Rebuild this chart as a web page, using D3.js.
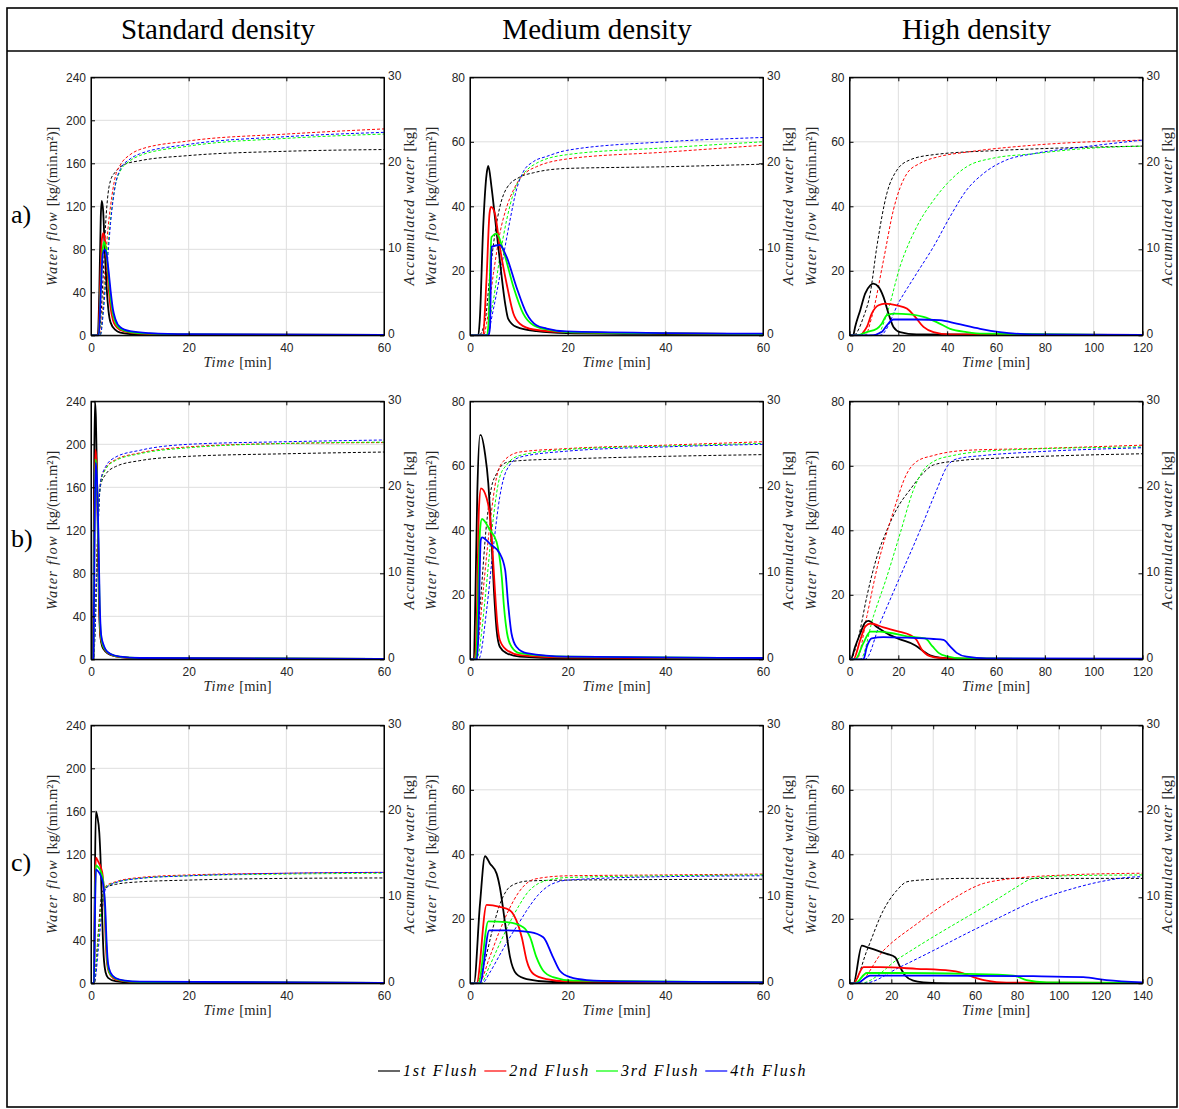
<!DOCTYPE html>
<html>
<head>
<meta charset="utf-8">
<script src="https://cdn.jsdelivr.net/npm/d3@7"></script>
<style>
  body { margin: 0; background: #fff; }
  svg { display: block; }
</style>
</head>
<body>
<svg id="fig" width="1179" height="1109"></svg>
<script>
// ---- labels ----
const columnTitles = ["Standard density", "Medium density", "High density"];
const rowLabels = ["a)", "b)", "c)"];
const flushNames = ["1st Flush", "2nd Flush", "3rd Flush", "4th Flush"];
const flushColors = ["#000000", "#ff0000", "#00ff00", "#0000ff"];

// ---- axis limits and ticks ----
const flowMax = [240, 80, 80];                 // per column
const flowTicks = [[0, 40, 80, 120, 160, 200, 240], [0, 20, 40, 60, 80], [0, 20, 40, 60, 80]];
const accMax = 30;
const accTicks = [0, 10, 20, 30];
const timeMax = [[60, 60, 120], [60, 60, 120], [60, 60, 140]];   // [row][col]
const timeTicks60 = [0, 20, 40, 60];
const timeTicks120 = [0, 20, 40, 60, 80, 100, 120];
const timeTicks140 = [0, 20, 40, 60, 80, 100, 120, 140];

// ---- water flow [kg/(min.m2)] : [time, value] per flush ----
const flowStdA = [
  [[0,0],[1.4,0],[1.7,40],[2.0,110],[2.2,125],[2.5,115],[2.8,82],[3.2,45],[3.6,22],[4,12],[5,5],[6,2.5],[8,1.2],[12,0.6],[30,0.3],[60,0.2]],
  [[0,0],[1.5,0],[1.9,50],[2.2,88],[2.5,95],[2.8,90],[3.2,70],[3.6,45],[4.0,26],[4.5,14],[5,9],[6,5],[8,2.5],[12,1.2],[20,0.7],[60,0.3]],
  [[0,0],[1.6,0],[2.0,45],[2.4,80],[2.7,87],[3.0,82],[3.5,60],[4.0,35],[4.5,20],[5,12],[6,6],[8,3],[12,1.5],[20,0.8],[60,0.3]],
  [[0,0],[1.6,0],[2.0,40],[2.4,75],[2.8,80],[3.2,75],[3.6,60],[4.0,42],[4.5,24],[5,15],[6,7.5],[8,3.8],[12,2],[20,1],[60,0.4]]
];
const flowMedA = [
  [[0,0],[1.7,0],[2.0,4.7],[2.7,33.6],[3.4,50],[3.75,52.5],[4.4,46],[5.1,36.7],[6.1,23.3],[7.2,9.8],[7.8,5.2],[9.5,2.6],[13.6,1.3],[19.8,0.7],[40,0.4],[60,0.3]],
  [[0,0],[2.6,0],[3.4,18],[4.0,37.8],[4.3,39.8],[5.1,37.8],[6.1,27.4],[7.5,16],[8.9,6.7],[10.2,3.6],[13,1.8],[19.8,1.0],[40,0.6],[60,0.4]],
  [[0,0],[3.4,0],[3.75,2.6],[4.4,30.5],[5.45,31.5],[6.8,26.4],[8.9,15],[10.9,6.7],[13,3.1],[15.7,1.8],[19.8,1.0],[40,0.6],[60,0.4]],
  [[0,0],[3.8,0],[4.1,2.6],[4.4,27.4],[6.1,28],[7.5,24.3],[9.5,15],[11.6,6.7],[13.6,3.1],[15.7,2.1],[19.8,1.2],[40,0.7],[60,0.5]]
];
const flowHighA = [
  [[0,0],[1.5,0],[2.3,2.6],[4.4,7.8],[6.4,12.9],[8.5,15.5],[9.8,16],[11.9,15],[13.9,11.9],[16,6.7],[18,2.6],[20.7,1],[27.5,0.3],[120,0.1]],
  [[0,0],[4.5,0],[5.7,1],[7.1,2.6],[9.1,6.7],[11.9,9.3],[14.6,9.8],[19.4,9.3],[23.5,8.3],[26.9,5.7],[30.3,2.6],[34.4,1],[41,0.3],[120,0.1]],
  [[0,0],[3,0],[7.1,1],[11.2,2],[13.2,3.6],[15.3,6.2],[18,6.7],[24.8,6.5],[30.3,5.7],[35.7,4.1],[41.2,2],[48,1],[54.8,0.5],[120,0.1]],
  [[0,0],[9,0],[13.2,1],[15.3,3.1],[18,4.9],[27.5,4.9],[37,4.7],[43.9,3.6],[53.5,2],[61.6,1],[75,0.3],[120,0.1]]
];
const flowStdB = [
  [[0,0],[0.4,0],[0.6,150],[0.8,240],[1.0,225],[1.3,150],[1.6,60],[1.9,22],[2.3,12],[3,7],[4,4],[6,2],[10,1],[60,0.3]],
  [[0,0],[0.5,0],[0.7,140],[0.9,195],[1.1,185],[1.4,130],[1.7,50],[2.0,20],[2.5,12],[3,8],[4,4.5],[6,2],[10,1],[60,0.3]],
  [[0,0],[0.5,0],[0.72,130],[0.92,186],[1.15,176],[1.45,125],[1.75,50],[2.05,21],[2.5,12.5],[3,8.5],[4,4.8],[6,2.2],[10,1.1],[60,0.3]],
  [[0,0],[0.5,0],[0.75,125],[0.95,183],[1.2,170],[1.5,120],[1.8,50],[2.1,22],[2.6,13],[3,9],[4,5],[6,2.5],[10,1.2],[60,0.3]]
];
const flowMedB = [
  [[0,0],[0.8,0],[1.0,11],[1.5,52],[2.05,69.5],[2.2,69.5],[3.07,63.8],[3.75,54.5],[4.4,37],[4.9,21.5],[5.45,9.1],[6.1,3.9],[7.5,1.9],[10.2,0.8],[19.8,0.3],[60,0.2]],
  [[0,0],[1.0,0],[1.36,11],[1.84,47],[2.25,53],[3.4,50],[4.1,44],[4.6,34],[5.1,21.5],[5.6,11],[6.1,6],[7.5,2.9],[10.2,1.3],[19.8,0.5],[60,0.3]],
  [[0,0],[1.2,0],[1.5,9],[2.05,40],[2.45,43.5],[4.1,40],[5.45,36.4],[6.5,25.6],[6.96,16.3],[7.6,8],[8.5,3.9],[10.2,1.9],[19.8,0.8],[60,0.4]],
  [[0,0],[1.4,0],[1.7,7],[2.2,37],[2.45,37.8],[4.1,35.8],[6.1,32.8],[7.2,27.7],[7.8,17.3],[8.5,8],[9.5,3.9],[11.6,1.9],[19.8,0.8],[60,0.4]]
];
const flowHighB = [
  [[0,0],[0.5,0],[2.3,3.9],[4.4,8],[6.4,11.4],[7.8,11.9],[11.2,10],[16.6,7.5],[20.7,6.2],[27,4.3],[30.3,2.5],[33,1.2],[37,0.5],[45,0.2],[120,0.1]],
  [[0,0],[1.6,0],[4.4,6],[6.4,10.1],[8.5,11.1],[13.9,9.9],[20.7,8.5],[24.8,7.5],[27.5,6],[29.6,3],[32.9,1],[37.1,0.4],[45,0.2],[120,0.1]],
  [[0,0],[2.3,0],[5.7,5],[8.5,8.6],[12.5,8.6],[19.4,7.8],[24.8,7],[31,6.5],[34,4],[36.5,2],[40,0.9],[46,0.3],[120,0.1]],
  [[0,0],[5.7,0],[7.1,3.9],[9.1,6.5],[13.9,6.9],[23.5,6.7],[34.4,6.3],[38.5,6],[41.2,4],[43.9,2],[48,0.8],[56.2,0.3],[120,0.2]]
];
const flowStdC = [
  [[0,0],[0.6,0],[0.8,100],[1.0,160],[1.3,155],[1.7,140],[2.0,110],[2.3,60],[2.6,25],[3,10],[3.5,5],[5,2],[8,0.8],[60,0.3]],
  [[0,0],[0.6,0],[0.8,80],[1.0,117],[1.5,113],[2.0,108],[2.4,100],[2.7,80],[3.0,40],[3.3,18],[3.7,10],[4.5,5],[6,2.5],[10,1],[60,0.3]],
  [[0,0],[0.6,0],[0.8,70],[1.0,110],[1.5,108],[2.0,104],[2.5,95],[2.8,75],[3.1,40],[3.4,18],[3.8,10],[4.5,6],[6,3],[10,1.2],[60,0.3]],
  [[0,0],[0.6,0],[0.8,60],[1.0,106],[1.5,104],[2.0,100],[2.5,92],[2.9,72],[3.2,38],[3.5,18],[4,10],[5,5],[7,2.5],[10,1.5],[60,0.4]]
];
const flowMedC = [
  [[0,0],[0.8,0],[2.05,24.7],[3.07,39.4],[4.1,37.1],[5.45,34],[6.1,29.9],[7.2,18.5],[8.2,8.1],[9.5,2.9],[11.6,1.3],[17,0.4],[60,0.2]],
  [[0,0],[1.36,0],[3.4,24.3],[6.1,23.7],[8.2,22.6],[9.5,19.5],[10.6,14.3],[11.6,7.1],[13,2.9],[15.7,1.3],[19.8,0.6],[60,0.2]],
  [[0,0],[1.7,0],[3.75,19.2],[7.5,19],[10.9,17.4],[12.3,14.3],[13.6,8.1],[15,3.9],[17,1.9],[21.1,0.8],[60,0.3]],
  [[0,0],[2.05,0],[3.95,16.4],[7.5,16.4],[12.3,15.9],[15,14.3],[17,8.1],[18.4,3.9],[20.5,1.9],[23.9,1],[30.7,0.6],[60,0.3]]
];
const flowHighC = [
  [[0,0],[1.9,0],[5.9,11.7],[8.3,11.2],[13,10.2],[17.8,9.1],[21.8,8.1],[24.2,5],[26.6,2.4],[30.5,0.8],[35.3,0.3],[48,0],[140,0]],
  [[0,0],[1.9,0],[6.7,5],[14.6,5],[32.1,4.5],[48,3.9],[52.8,3.4],[59.2,1.9],[65.5,0.8],[75,0.2],[140,0.1]],
  [[0,0],[2.7,0],[8.3,3.2],[24.2,3.2],[56,2.9],[78.3,2.4],[84.6,1],[94.2,0.3],[140,0.1]],
  [[0,0],[3.5,0],[9.9,2.4],[40,2.4],[87.8,2.2],[111.7,1.9],[122.8,1],[140,0.3]]
];

// ---- accumulated water [kg] : [time, value] per flush ----
const accStdA = [
  [[0,0],[1.6,0],[2,2],[2.5,7],[3,13],[3.5,16.5],[4,18],[5,19],[7,19.9],[10,20.3],[20,20.9],[40,21.4],[60,21.6]],
  [[0,0],[1.8,0],[2.5,4],[3,9],[3.5,12.5],[4,15],[5,18.5],[6,19.8],[8,21],[10,21.6],[20,22.6],[40,23.4],[60,24]],
  [[0,0],[1.9,0],[2.5,3],[3,7],[3.5,10.5],[4,13.5],[5,17.5],[6,19.1],[8,20.3],[10,20.9],[20,22],[40,22.9],[60,23.4]],
  [[0,0],[1.9,0],[2.5,2.5],[3,6],[3.5,9.5],[4,13],[5,17.5],[6,19.3],[8,20.5],[10,21.1],[20,22.2],[40,23.1],[60,23.6]]
];
const accMedA = [
  [[0,0],[1.8,0],[3.1,1.7],[4.1,7.2],[5.1,11.8],[6.1,14.9],[7.5,17.1],[10.2,18.4],[13,18.9],[19.8,19.4],[40,19.6],[60,19.9]],
  [[0,0],[2.8,0],[3.4,1.4],[4.8,7.2],[6.1,11.8],[7.5,14.9],[8.9,16.9],[10.2,18.2],[11.6,19],[13.6,19.6],[19.8,20.5],[40,21.3],[60,22.1]],
  [[0,0],[3.5,0],[3.75,1],[4.8,4.1],[6.1,9.1],[7.5,13.4],[8.9,16.5],[10.2,18.2],[11.6,19.2],[13.6,20],[19.8,21],[40,21.8],[60,22.5]],
  [[0,0],[3.8,0],[4.1,1],[5.45,4.9],[6.8,9.1],[8.2,13.4],[9.5,16.9],[10.9,19],[13,20.2],[15.7,20.8],[19.8,21.5],[40,22.5],[60,23]]
];
const accHighA = [
  [[0,0],[1.6,0],[5.7,2.1],[8.5,4.9],[11.2,10.3],[15.3,16.5],[19.4,19.2],[24.8,20.4],[34.4,21],[61.6,21.5],[89,21.8],[120,22]],
  [[0,0],[6.4,0],[9.1,2.1],[13.9,8.7],[18,14.6],[23.5,18.8],[28.9,20],[37,20.8],[48,21.3],[75,22.1],[120,22.7]],
  [[0,0],[11.2,0],[15.3,2.5],[20.7,8],[27.5,12.6],[34.4,15.7],[41.2,18],[48,19.6],[58.9,20.6],[75,21.1],[95.7,21.7],[120,22]],
  [[0,0],[12.5,0],[20.7,4.1],[27.5,7.2],[34.4,10.3],[41.2,13.8],[48,16.9],[54.8,18.8],[64.4,20.4],[75,21.1],[95.7,21.9],[120,22.7]]
];
const accStdB = [
  [[0,0],[0.5,0],[0.8,4],[1.2,12],[1.6,18],[2,20.3],[3,21.5],[5,22.4],[10,23.1],[20,23.6],[40,23.9],[60,24.1]],
  [[0,0],[0.5,0],[0.9,5],[1.3,13],[1.7,19],[2,20.8],[3,22.2],[5,23.2],[10,24],[20,24.7],[40,25.1],[60,25.2]],
  [[0,0],[0.5,0],[0.9,4.5],[1.3,12.5],[1.7,18.7],[2,20.6],[3,22.1],[5,23.1],[10,23.9],[20,24.6],[40,25.1],[60,25.25]],
  [[0,0],[0.5,0],[0.9,4],[1.3,12],[1.7,18.5],[2,20.8],[3,22.4],[5,23.5],[10,24.3],[20,25],[40,25.3],[60,25.5]]
];
const accMedB = [
  [[0,0],[1.0,0],[2.05,6.1],[3.4,15.8],[4.4,20],[5.45,21.6],[7.5,22.9],[10.2,23.1],[19.8,23.3],[40,23.6],[60,23.8]],
  [[0,0],[1.1,0],[1.4,0.7],[2.7,8],[4.1,15.8],[5.45,21.2],[6.8,23],[10.2,24.1],[19.8,24.5],[40,24.9],[60,25.3]],
  [[0,0],[1.4,0],[1.7,0.5],[3.07,6.9],[4.4,14.6],[6.1,21.2],[7.5,22.6],[10.2,23.7],[19.8,24.4],[40,24.8],[60,25.1]],
  [[0,0],[1.8,0],[2.05,0.3],[3.4,5.7],[4.8,13.1],[6.1,18.9],[7.5,22],[10.2,23.5],[19.8,24.2],[40,24.7],[60,25]]
];
const accHighB = [
  [[0,0],[0.3,0],[3.7,2.6],[7.1,7.3],[11.2,11.9],[15.3,15],[19.4,17.5],[25,19.8],[30,21.6],[34.4,22.6],[45,23.1],[61.6,23.4],[90,23.7],[120,23.9]],
  [[0,0],[3,0],[7.1,5],[11.2,10.5],[18,17.2],[23.5,21.6],[27.5,23],[34.4,23.7],[48,24.3],[75,24.5],[120,24.9]],
  [[0,0],[4.4,0],[9.8,5],[15.3,9.6],[20.7,14.6],[26.2,19.7],[30.3,22],[34.4,23],[42.5,23.7],[61.6,24.3],[120,24.7]],
  [[0,0],[6.4,0],[12.5,4.2],[20.7,9.6],[28.9,15],[35.7,19.7],[39.9,22.4],[43.9,23.3],[54.8,23.7],[75,24.1],[120,24.6]]
];
const accStdC = [
  [[0,0],[0.7,0],[1.0,2],[1.5,6],[2.0,9.5],[2.5,10.8],[3,11.1],[5,11.5],[10,11.8],[20,12],[40,12.2],[60,12.25]],
  [[0,0],[0.7,0],[1.0,2],[1.5,5.5],[2.0,8.5],[2.5,10.5],[3,11.3],[5,11.8],[10,12.3],[20,12.6],[40,12.8],[60,12.9]],
  [[0,0],[0.7,0],[1.0,1.8],[1.5,5.2],[2.0,8.2],[2.5,10.3],[3,11.2],[5,11.7],[10,12.2],[20,12.5],[40,12.7],[60,12.8]],
  [[0,0],[0.6,0],[1.0,1],[1.5,4],[2.0,7],[2.5,9.5],[3,11],[5,11.7],[10,12.2],[20,12.5],[40,12.8],[60,12.9]]
];
const accMedC = [
  [[0,0],[1.3,0],[3,2.5],[4.5,6],[6,9],[7.5,10.8],[9,11.5],[12,11.9],[20,12],[60,12.1]],
  [[0,0],[1.8,0],[4,3],[6,6],[8,8.6],[10,10.6],[12,11.8],[14,12.2],[20,12.5],[40,12.6],[60,12.7]],
  [[0,0],[2.2,0],[4,2],[6,4.5],[8,6.9],[10,9],[12,10.7],[14,11.6],[16,12],[20,12.3],[40,12.5],[60,12.6]],
  [[0,0],[2.5,0],[4,1.2],[6,3.2],[8,5.2],[10,7],[12,8.8],[14,10.3],[16,11.3],[18,11.8],[20,12],[40,12.4],[60,12.5]]
];
const accHighC = [
  [[0,0],[1.9,0],[8.3,3.8],[16.2,8.5],[22.6,10.8],[27.4,11.8],[33.7,12],[56,12.2],[140,12.2]],
  [[0,0],[3.5,0],[16.2,3.8],[32.1,6.9],[48,9.6],[63.9,11.6],[72,12],[103.7,12.6],[140,12.8]],
  [[0,0],[5.1,0],[24.2,3],[40,5.4],[56,7.7],[72,10],[79.9,11.2],[87.8,12.2],[103.7,12.5],[140,12.6]],
  [[0,0],[6.7,0],[24.2,1.9],[40,3.8],[56,5.8],[72,7.7],[87.8,9.5],[103.7,10.8],[119.6,11.8],[132.4,12.3],[140,12.4]]
];

// panel grid: [row][column]
const flowGrid = [[flowStdA, flowMedA, flowHighA], [flowStdB, flowMedB, flowHighB], [flowStdC, flowMedC, flowHighC]];
const accGrid  = [[accStdA, accMedA, accHighA], [accStdB, accMedB, accHighB], [accStdC, accMedC, accHighC]];

// ---- layout ----
const svg = d3.select("#fig");
const PW = 293, PH = 258;
const colLeft = [91, 470, 849.5];
const rowTop = [77.3, 401.3, 725.3];
const tickFont = "'Liberation Sans', Arial, sans-serif";
const serif = "'Liberation Serif', 'Times New Roman', serif";
const axisInk = "#262626";

svg.append("rect").attr("width", 1179).attr("height", 1109).attr("fill", "#fff");

// surrounding table
svg.append("rect").attr("x", 7).attr("y", 8).attr("width", 1170).attr("height", 1099)
  .attr("fill", "none").attr("stroke", "#000").attr("stroke-width", 1.6);
svg.append("line").attr("x1", 7).attr("x2", 1177).attr("y1", 51).attr("y2", 51)
  .attr("stroke", "#000").attr("stroke-width", 1.6);

columnTitles.forEach((t, c) => {
  svg.append("text").attr("x", colLeft[c] + 127).attr("y", 39)
    .attr("text-anchor", "middle").attr("font-family", serif).attr("font-size", 29)
    .text(t);
});
rowLabels.forEach((t, r) => {
  svg.append("text").attr("x", 11).attr("y", rowTop[r] + PH / 2 + 17)
    .attr("font-family", serif).attr("font-size", 26).text(t);
});

const defs = svg.append("defs");

function xTicksFor(max) {
  return max === 60 ? timeTicks60 : (max === 120 ? timeTicks120 : timeTicks140);
}

function drawPanel(r, c) {
  const tMax = timeMax[r][c];
  const x = d3.scaleLinear().domain([0, tMax]).range([0, PW]);
  const yL = d3.scaleLinear().domain([0, flowMax[c]]).range([PH, 0]);
  const yR = d3.scaleLinear().domain([0, accMax]).range([PH, 0]);
  const g = svg.append("g").attr("transform", `translate(${colLeft[c]},${rowTop[r]})`);
  const clipId = `clip-${r}-${c}`;
  defs.append("clipPath").attr("id", clipId)
    .append("rect").attr("x", 0).attr("y", -1).attr("width", PW).attr("height", PH + 2);

  const xt = xTicksFor(tMax);
  const yt = flowTicks[c];

  // grid
  const grid = g.append("g").attr("stroke", "#dedede").attr("stroke-width", 1);
  xt.forEach(v => grid.append("line").attr("x1", x(v)).attr("x2", x(v)).attr("y1", 0).attr("y2", PH));
  yt.forEach(v => grid.append("line").attr("x1", 0).attr("x2", PW).attr("y1", yL(v)).attr("y2", yL(v)));

  // curves
  const curves = g.append("g").attr("clip-path", `url(#${clipId})`);
  const flowLine = d3.line().x(d => x(d[0])).y(d => yL(d[1])).curve(d3.curveMonotoneX);
  const accLine = d3.line().x(d => x(d[0])).y(d => yR(d[1])).curve(d3.curveMonotoneX);
  accGrid[r][c].forEach((s, i) => {
    curves.append("path").attr("d", accLine(s)).attr("fill", "none")
      .attr("stroke", flushColors[i]).attr("stroke-width", 1).attr("stroke-dasharray", "3,2");
  });
  flowGrid[r][c].forEach((s, i) => {
    curves.append("path").attr("d", flowLine(s)).attr("fill", "none")
      .attr("stroke", flushColors[i]).attr("stroke-width", 1.8).attr("stroke-linejoin", "round");
  });

  // box
  g.append("rect").attr("width", PW).attr("height", PH).attr("fill", "none")
    .attr("stroke", "#000").attr("stroke-width", 1);

  // left axis (inward ticks)
  const axL = d3.axisLeft(yL).tickValues(yt).tickSizeInner(-4).tickSizeOuter(0).tickPadding(5);
  const gL = g.append("g").call(axL);
  // right axis
  const axR = d3.axisRight(yR).tickValues(accTicks).tickSizeInner(-4).tickSizeOuter(0).tickPadding(4);
  const gR = g.append("g").attr("transform", `translate(${PW},0)`).call(axR);
  gR.selectAll("text").attr("dy", "0.18em");
  // bottom axis
  const axB = d3.axisBottom(x).tickValues(xt).tickSizeInner(-4).tickSizeOuter(0).tickPadding(8);
  const gB = g.append("g").attr("transform", `translate(0,${PH})`).call(axB);
  // top mirrored ticks
  const axT = d3.axisTop(x).tickValues(xt).tickSizeInner(-4).tickSizeOuter(0).tickFormat("");
  const gT = g.append("g").call(axT);

  [gL, gR, gB, gT].forEach(a => {
    a.select(".domain").attr("stroke", "#000");
    a.selectAll(".tick line").attr("stroke", "#000");
    a.selectAll("text").attr("font-family", tickFont).attr("font-size", 12).attr("fill", axisInk);
  });

  // axis titles
  const leftTitle = g.append("text")
    .attr("transform", `translate(-34,${PH / 2}) rotate(-90)`)
    .attr("text-anchor", "middle").attr("font-family", serif).attr("font-size", 14.5)
    .attr("fill", axisInk);
  leftTitle.append("tspan").attr("font-style", "italic").attr("letter-spacing", 1.2).text("Water flow ");
  leftTitle.append("tspan").text("[kg/(min.m²)]");

  const rightTitle = g.append("text")
    .attr("transform", `translate(${PW + 29.5},${PH / 2}) rotate(-90)`)
    .attr("text-anchor", "middle").attr("font-family", serif).attr("font-size", 14.5)
    .attr("fill", axisInk);
  rightTitle.append("tspan").attr("font-style", "italic").attr("letter-spacing", 1).text("Accumulated water ");
  rightTitle.append("tspan").text("[kg]");

  const bottomTitle = g.append("text")
    .attr("x", PW / 2).attr("y", PH + 32)
    .attr("text-anchor", "middle").attr("font-family", serif).attr("font-size", 14.5)
    .attr("fill", axisInk);
  bottomTitle.append("tspan").attr("font-style", "italic").attr("letter-spacing", 0.8).text("Time ");
  bottomTitle.append("tspan").text("[min]");
}

for (let r = 0; r < 3; r++) for (let c = 0; c < 3; c++) drawPanel(r, c);

// legend
const legend = svg.append("g").attr("transform", "translate(378,1071)");
let lx = 0;
flushNames.forEach((name, i) => {
  legend.append("line").attr("x1", lx).attr("x2", lx + 22).attr("y1", 0).attr("y2", 0)
    .attr("stroke", flushColors[i]).attr("stroke-width", 1.2);
  const t = legend.append("text").attr("x", lx + 25).attr("y", 5)
    .attr("font-family", serif).attr("font-size", 16).attr("font-style", "italic")
    .attr("letter-spacing", 1.8).text(name);
  lx += 25 + t.node().getComputedTextLength() + 6;
});
</script>
</body>
</html>
